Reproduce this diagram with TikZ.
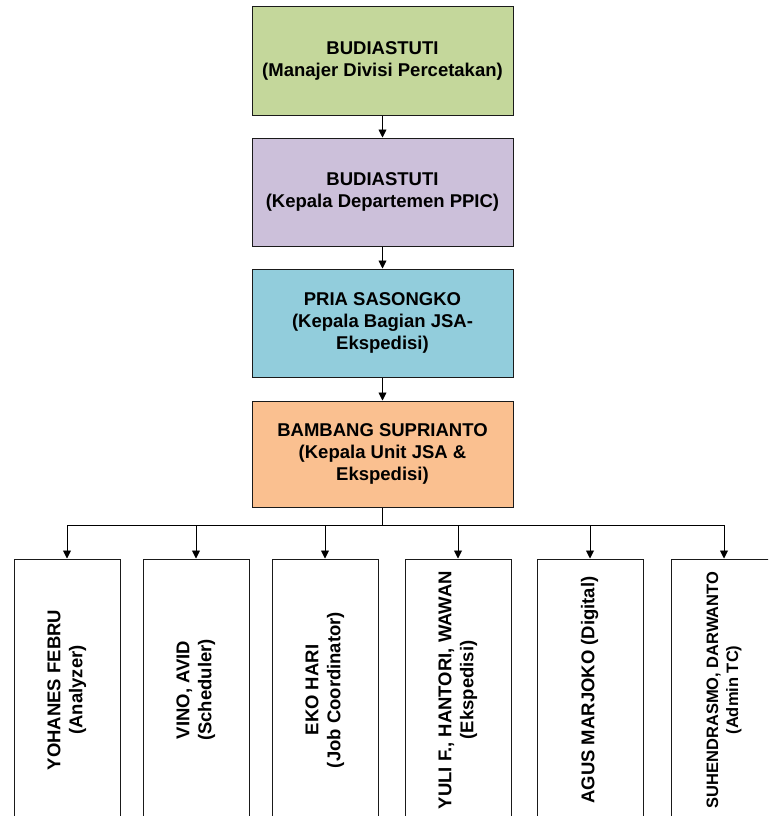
\documentclass[tikz,border=0pt]{standalone}
\usepackage{fontspec}
\setmainfont{Liberation Sans}
\usetikzlibrary{arrows.meta}
\definecolor{boxgreen}{HTML}{C4D79B}
\definecolor{boxpurple}{HTML}{CCC0DA}
\definecolor{boxblue}{HTML}{92CDDC}
\definecolor{boxorange}{HTML}{FAC090}
\definecolor{edge}{HTML}{1A1A1A}
\newcommand{\vlabel}[1]{\rotatebox{90}{\begin{tabular}{@{}c@{}}#1\end{tabular}}}
\begin{document}
\begin{tikzpicture}[x=1pt,y=-1pt,
  every node/.style={font=\fontsize{18.5}{22}\selectfont\bfseries},
  headbox/.style={draw=edge, line width=1pt, rectangle, align=center,
    minimum width=261pt, minimum height=108pt, inner sep=0pt},
  staffbox/.style={draw=edge, line width=1pt, rectangle, fill=white,
    minimum width=106pt, minimum height=262pt, inner sep=0pt},
  link/.style={draw=black, line width=0.9pt,
    -{Triangle[length=8pt,width=8pt]}}]
  \useasboundingbox (0,0) rectangle (768,816);

  % chain of command
  \node[headbox, fill=boxgreen]  (m1) at (382.5,61)  {BUDIASTUTI\\(Manajer Divisi Percetakan)};
  \node[headbox, fill=boxpurple] (m2) at (382.5,192) {BUDIASTUTI\\(Kepala Departemen PPIC)};
  \node[headbox, fill=boxblue]   (m3) at (382.5,323) {PRIA SASONGKO\\(Kepala Bagian JSA-\\Ekspedisi)};
  \node[headbox, fill=boxorange, minimum height=106pt] (m4) at (382.5,454) {BAMBANG SUPRIANTO\\(Kepala Unit JSA \&\\Ekspedisi)};

  \draw[link] (m1) -- (m2);
  \draw[link] (m2) -- (m3);
  \draw[link] (m3) -- (m4);

  % staff of the unit
  \begin{scope}
  \clip (0,0) rectangle (768,816);
  \node[staffbox] (s1) at (67,690)  {\vlabel{YOHANES FEBRU\\(Analyzer)}};
  \node[staffbox] (s2) at (196,690) {\vlabel{VINO, AVID\\(Scheduler)}};
  \node[staffbox] (s3) at (325,690) {\vlabel{EKO HARI\\(Job Coordinator)}};
  \node[staffbox] (s4) at (458,690) {\vlabel{YULI F., HANTORI, WAWAN\\(Ekspedisi)}};
  \node[staffbox] (s5) at (590,690) {\vlabel{AGUS MARJOKO (Digital)}};
  \node[staffbox, font=\fontsize{16.5}{20}\selectfont\bfseries] (s6) at (724,690)
    {\vlabel{SUHENDRASMO, DARWANTO\\(Admin TC)}};
  \end{scope}

  % distribution bus
  \coordinate (bus) at (382.5,525);
  \draw[line width=0.9pt] (m4.south) -- (bus);
  \foreach \s in {s1,s2,s3,s4,s5,s6}
    \draw[link] (bus) -| (\s.north);
\end{tikzpicture}
\end{document}
